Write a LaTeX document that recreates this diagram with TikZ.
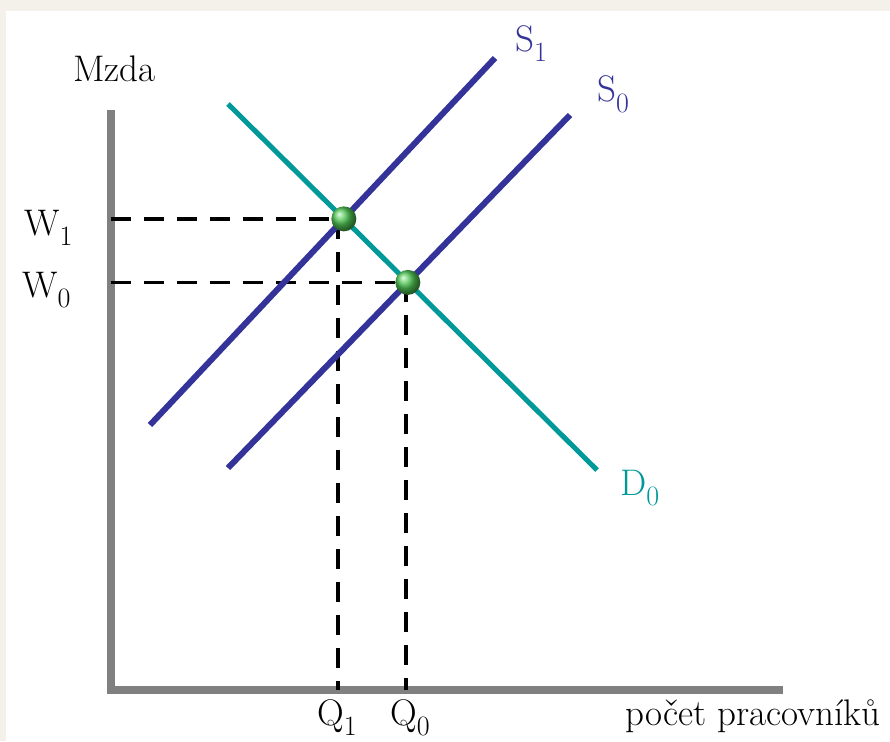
\documentclass[tikz,border=0pt]{standalone}
\usepackage{fontspec}
\usepackage{tikz}
\usetikzlibrary{calc,positioning}
\definecolor{SupplyBlue}{RGB}{51,51,153}
\definecolor{DemandTeal}{RGB}{0,153,153}
\definecolor{AxisGray}{RGB}{128,128,128}
\definecolor{PageCream}{RGB}{244,241,234}
\definecolor{BallGreen}{RGB}{80,200,85}
\newcommand\lowidx[1]{\raisebox{-10pt}{\fontsize{28}{28}\selectfont#1}}

\begin{document}
\begin{tikzpicture}[x=1pt,y=-1pt,font=\fontsize{37}{42}\selectfont,
    lab/.style={anchor=base west,inner sep=0pt},
    supply/.style={line width=6pt,SupplyBlue},
    demand/.style={line width=5pt,DemandTeal},
    guide/.style={line width=3.5pt,dash pattern=on 20pt off 13pt},
    eqdot/.style={circle,inner sep=0pt,minimum size=25pt,ball color=BallGreen}]
      % page
      \fill[PageCream] (0,0) rectangle (890,741);
      \fill[white] (6,11) rectangle (890,741);
      \useasboundingbox (0,0) rectangle (890,741);
      % axes
      \coordinate (top) at (110.5,110);
      \coordinate (origin) at (110.5,690);
      \coordinate (right) at (783,690);
      \draw[AxisGray,line width=8pt] (top) -- (origin) -- (right);
      % curves
      \coordinate (S1a) at (150,425); \coordinate (S1b) at (495,58);
      \coordinate (S0a) at (228,468); \coordinate (S0b) at (570,115);
      \coordinate (D0a) at (228,104); \coordinate (D0b) at (597,470);
      \coordinate (E1) at (intersection of S1a--S1b and D0a--D0b);
      \coordinate (E0) at (intersection of S0a--S0b and D0a--D0b);
      \coordinate (E1q) at ($(E1)+(-6,0)$);
      \coordinate (E0q) at ($(E0)+(-2,0)$);
      \draw[guide] (top |- E1) -- (E1);
      \draw[guide] (E1q) -- (E1q |- origin);
      \draw[guide] (top |- E0) -- (E0);
      \draw[guide] (E0q) -- (E0q |- origin);
      \draw[supply] (S1a) -- (S1b);
      \draw[supply] (S0a) -- (S0b);
      \draw[demand] (D0a) -- (D0b);
      \node[eqdot] (dot1) at (E1) {};
      \node[eqdot] (dot0) at (E0) {};
      % labels
      \node[lab] (ylab) at (73,82) {Mzda};
      \node[lab] (w1) at (24,235) {W\lowidx{1}};
      \node[lab] (w0) at (22,297) {W\lowidx{0}};
      \node[lab] (q1) at (317,725) {Q\lowidx{1}};
      \node[lab] (q0) at (390,725) {Q\lowidx{0}};
      \node[lab] (xlab) at (625,725) {počet pracovníků};
      \node[lab,SupplyBlue] (s1) at (515,52) {S\lowidx{1}};
      \node[lab,SupplyBlue] (s0) at (597,102) {S\lowidx{0}};
      \node[lab,DemandTeal] (d0) at (620,495) {D\lowidx{0}};
    \end{tikzpicture}
\end{document}
